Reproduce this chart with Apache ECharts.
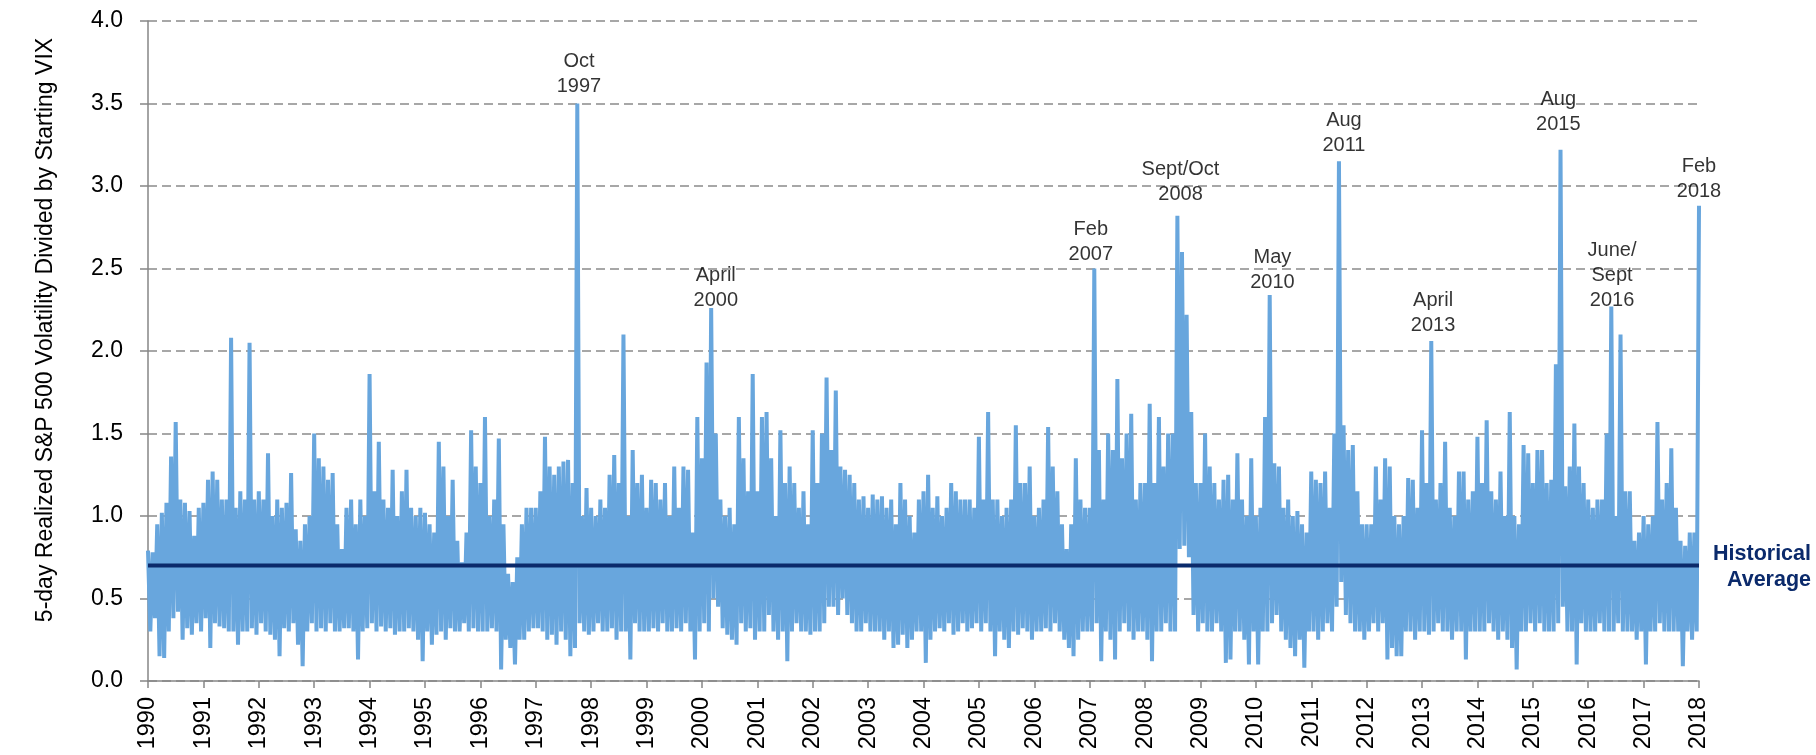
<!DOCTYPE html>
<html>
<head>
<meta charset="utf-8">
<script src="https://cdn.jsdelivr.net/npm/echarts@6/dist/echarts.min.js"></script>
<style>
  html, body { margin: 0; padding: 0; background: #fff; }
  #chart { width: 1816px; height: 755px; }
</style>
</head>
<body>
<div id="chart"></div>
<script>
// monthly envelope: one high and one low per month, Jan 1990 .. Dec 2017
const startYear = 1990;
const monthHigh = [
  0.79, 0.78, 0.95, 1.02, 1.08, 1.36, 1.57, 1.1, 1.08, 1.03, 0.88, 1.05, // 1990
  1.08, 1.22, 1.27, 1.22, 1.1, 1.1, 2.08, 1.05, 1.15, 1.1, 2.05, 1.1,    // 1991
  1.15, 1.1, 1.38, 1.0, 1.1, 1.05, 1.08, 1.26, 0.92, 0.85, 0.95, 1.0,    // 1992
  1.5, 1.35, 1.3, 1.22, 1.26, 0.95, 0.8, 1.05, 1.1, 0.95, 1.1, 1.0,      // 1993
  1.86, 1.15, 1.45, 1.1, 1.05, 1.28, 1.0, 1.15, 1.28, 1.05, 1.0, 1.05,   // 1994
  1.02, 0.95, 0.9, 1.45, 1.3, 1.0, 1.22, 0.85, 0.72, 0.9, 1.52, 1.3,     // 1995
  1.2, 1.6, 1.0, 1.1, 1.47, 0.95, 0.65, 0.6, 0.75, 0.95, 1.05, 1.05,     // 1996
  1.05, 1.15, 1.48, 1.3, 1.25, 1.3, 1.33, 1.34, 1.2, 3.5, 1.0, 1.17,     // 1997
  1.05, 1.0, 1.1, 1.05, 1.25, 1.37, 1.2, 2.1, 1.0, 1.4, 1.2, 1.25,       // 1998
  1.05, 1.22, 1.2, 1.1, 1.2, 1.0, 1.3, 1.05, 1.3, 1.28, 0.9, 1.6,        // 1999
  1.35, 1.93, 2.26, 1.5, 1.1, 1.0, 1.05, 0.95, 1.6, 1.35, 1.15, 1.86,    // 2000
  1.15, 1.6, 1.63, 1.35, 1.0, 1.52, 1.2, 1.3, 1.2, 1.05, 1.15, 0.95,     // 2001
  1.52, 1.2, 1.5, 1.84, 1.4, 1.76, 1.3, 1.28, 1.25, 1.2, 1.1, 1.12,      // 2002
  1.05, 1.13, 1.1, 1.12, 1.05, 1.1, 0.95, 1.2, 1.1, 1.0, 0.9, 1.1,       // 2003
  1.15, 1.25, 1.05, 1.12, 1.0, 1.05, 1.2, 1.15, 1.1, 1.1, 1.1, 1.05,     // 2004
  1.48, 1.1, 1.63, 1.1, 1.1, 1.0, 1.05, 1.1, 1.55, 1.2, 1.2, 1.3,        // 2005
  1.0, 1.05, 1.1, 1.54, 1.3, 1.15, 0.95, 0.8, 0.95, 1.35, 1.1, 1.05,     // 2006
  1.05, 2.5, 1.4, 1.1, 1.5, 1.4, 1.83, 1.35, 1.5, 1.62, 1.1, 1.2,        // 2007
  1.2, 1.68, 1.2, 1.6, 1.3, 1.5, 1.5, 2.82, 2.6, 2.22, 1.63, 1.2,        // 2008
  1.2, 1.5, 1.3, 1.2, 1.1, 1.22, 1.25, 1.1, 1.38, 1.1, 1.0, 1.35,        // 2009
  1.0, 1.05, 1.6, 2.34, 1.32, 1.3, 1.05, 1.1, 1.0, 1.03, 0.95, 0.9,      // 2010
  1.27, 1.22, 1.2, 1.27, 1.05, 1.5, 3.15, 1.55, 1.4, 1.43, 1.15, 0.95,   // 2011
  0.95, 0.95, 1.3, 1.1, 1.35, 1.3, 1.0, 0.95, 1.0, 1.23, 1.22, 1.05,     // 2012
  1.52, 1.2, 2.06, 1.1, 1.2, 1.45, 1.05, 1.0, 1.27, 1.27, 1.1, 1.15,     // 2013
  1.48, 1.2, 1.58, 1.15, 1.1, 1.27, 1.0, 1.63, 1.0, 0.95, 1.43, 1.38,    // 2014
  1.2, 1.4, 1.4, 1.2, 1.22, 1.92, 3.22, 1.18, 1.3, 1.56, 1.3, 1.2,       // 2015
  1.1, 1.05, 1.1, 1.1, 1.5, 2.27, 1.0, 2.1, 1.15, 1.15, 0.85, 0.9,       // 2016
  1.0, 0.95, 1.0, 1.57, 1.1, 1.2, 1.41, 1.05, 0.85, 0.82, 0.9, 0.9,      // 2017
  2.88                                                                   // Feb 2018
];
const monthLow = [
  0.3, 0.38, 0.15, 0.14, 0.3, 0.38, 0.42, 0.25, 0.32, 0.28, 0.35, 0.3,   // 1990
  0.38, 0.2, 0.35, 0.33, 0.32, 0.3, 0.3, 0.22, 0.3, 0.3, 0.32, 0.28,     // 1991
  0.35, 0.3, 0.28, 0.25, 0.15, 0.32, 0.3, 0.35, 0.22, 0.09, 0.3, 0.35,   // 1992
  0.3, 0.32, 0.3, 0.35, 0.3, 0.3, 0.32, 0.32, 0.3, 0.13, 0.3, 0.32,      // 1993
  0.35, 0.3, 0.33, 0.3, 0.32, 0.28, 0.3, 0.3, 0.32, 0.3, 0.25, 0.12,     // 1994
  0.3, 0.22, 0.28, 0.3, 0.25, 0.32, 0.3, 0.3, 0.35, 0.3, 0.32, 0.3,      // 1995
  0.3, 0.3, 0.32, 0.3, 0.07, 0.25, 0.2, 0.1, 0.25, 0.25, 0.3, 0.32,      // 1996
  0.32, 0.3, 0.25, 0.28, 0.22, 0.3, 0.25, 0.15, 0.2, 0.35, 0.3, 0.28,    // 1997
  0.3, 0.35, 0.3, 0.3, 0.32, 0.25, 0.3, 0.3, 0.13, 0.35, 0.3, 0.3,       // 1998
  0.3, 0.32, 0.3, 0.35, 0.3, 0.3, 0.32, 0.3, 0.35, 0.3, 0.13, 0.3,       // 1999
  0.35, 0.3, 0.5, 0.45, 0.32, 0.28, 0.25, 0.22, 0.35, 0.3, 0.32, 0.25,   // 2000
  0.3, 0.3, 0.4, 0.3, 0.25, 0.3, 0.12, 0.3, 0.35, 0.3, 0.3, 0.28,        // 2001
  0.3, 0.3, 0.35, 0.45, 0.45, 0.4, 0.5, 0.4, 0.35, 0.3, 0.3, 0.35,       // 2002
  0.3, 0.3, 0.3, 0.25, 0.3, 0.2, 0.22, 0.28, 0.2, 0.25, 0.3, 0.3,        // 2003
  0.11, 0.25, 0.3, 0.32, 0.3, 0.35, 0.28, 0.3, 0.35, 0.3, 0.32, 0.35,    // 2004
  0.3, 0.35, 0.3, 0.15, 0.3, 0.25, 0.2, 0.3, 0.28, 0.32, 0.3, 0.25,      // 2005
  0.3, 0.3, 0.32, 0.3, 0.35, 0.3, 0.25, 0.2, 0.15, 0.25, 0.3, 0.3,       // 2006
  0.3, 0.35, 0.12, 0.3, 0.25, 0.13, 0.3, 0.35, 0.3, 0.25, 0.3, 0.3,      // 2007
  0.25, 0.12, 0.3, 0.3, 0.35, 0.3, 0.3, 0.8, 0.82, 0.75, 0.4, 0.3,       // 2008
  0.35, 0.3, 0.3, 0.35, 0.3, 0.11, 0.13, 0.3, 0.3, 0.25, 0.1, 0.3,       // 2009
  0.1, 0.3, 0.3, 0.35, 0.4, 0.3, 0.25, 0.2, 0.15, 0.25, 0.08, 0.3,       // 2010
  0.3, 0.25, 0.3, 0.35, 0.3, 0.45, 0.6, 0.4, 0.35, 0.3, 0.3, 0.25,       // 2011
  0.3, 0.35, 0.3, 0.35, 0.13, 0.2, 0.15, 0.15, 0.3, 0.3, 0.25, 0.3,      // 2012
  0.3, 0.28, 0.3, 0.35, 0.3, 0.3, 0.25, 0.3, 0.3, 0.13, 0.3, 0.3,        // 2013
  0.3, 0.3, 0.35, 0.3, 0.25, 0.3, 0.25, 0.2, 0.07, 0.3, 0.3, 0.35,       // 2014
  0.3, 0.35, 0.3, 0.3, 0.3, 0.35, 0.45, 0.3, 0.3, 0.1, 0.35, 0.3,        // 2015
  0.3, 0.3, 0.35, 0.3, 0.3, 0.3, 0.35, 0.3, 0.3, 0.3, 0.25, 0.3,         // 2016
  0.1, 0.3, 0.3, 0.35, 0.3, 0.3, 0.3, 0.3, 0.09, 0.3, 0.25, 0.3          // 2017
];
const historicalAverage = 0.70;

// event labels: text, year, value just under the text
const eventNames = ['Oct\n1997', 'April\n2000', 'Feb\n2007', 'Sept/Oct\n2008', 'May\n2010',
  'Aug\n2011', 'April\n2013', 'Aug\n2015', 'June/\nSept\n2016', 'Feb\n2018'];
const eventYears = [1997.78, 2000.25, 2007.02, 2008.64, 2010.30, 2011.59, 2013.2, 2015.46, 2016.43, 2018.0];
const eventValues = [3.53, 2.23, 2.51, 2.87, 2.34, 3.17, 2.08, 3.30, 2.23, 2.89];

const points = [];
monthHigh.forEach((v, i) => {
  points.push([startYear + i / 12, v]);
  if (i < monthLow.length) points.push([startYear + (i + 0.5) / 12, monthLow[i]]);
});

const font = '"Liberation Sans", Arial, sans-serif';
const chart = echarts.init(document.getElementById('chart'));

chart.setOption({
  animation: false,
  grid: { left: 148, right: 117, top: 21, bottom: 74, outerBoundsMode: 'none' },
  xAxis: {
    type: 'value',
    min: 1990,
    max: 2018,
    interval: 1,
    axisLine: { lineStyle: { color: '#868686', width: 1.5 } },
    axisTick: { length: 7, lineStyle: { color: '#868686', width: 1.5 } },
    axisLabel: {
      rotate: 90,
      margin: 16,
      color: '#000',
      fontSize: 23.5,
      fontFamily: font,
      formatter: (v) => String(v)
    },
    splitLine: { show: false }
  },
  yAxis: {
    type: 'value',
    min: 0,
    max: 4,
    interval: 0.5,
    axisLine: { show: true, lineStyle: { color: '#868686', width: 1.5 } },
    axisTick: { show: true, length: 8, lineStyle: { color: '#868686', width: 1.5 } },
    axisLabel: {
      margin: 25,
      color: '#000',
      fontSize: 23,
      fontFamily: font,
      formatter: (v) => v.toFixed(1)
    },
    splitLine: { lineStyle: { color: '#8a8a8a', width: 1.5, type: [9, 5] } }
  },
  series: [
    {
      type: 'line',
      data: points,
      symbol: 'none',
      lineStyle: { color: '#68a6dd', width: 4 },
      z: 2
    },
    {
      type: 'line',
      data: [[1990, historicalAverage], [2018, historicalAverage]],
      symbol: 'none',
      lineStyle: { color: '#0b2a6b', width: 4 },
      z: 3
    },
    {
      type: 'scatter',
      data: eventYears.map((y, i) => ({ value: [y, eventValues[i]], name: eventNames[i] })),
      symbolSize: 0,
      z: 4,
      label: {
        show: true,
        position: 'top',
        distance: 0,
        formatter: (p) => p.name,
        color: '#000',
        fontSize: 20,
        lineHeight: 25,
        fontFamily: font,
        align: 'center'
      }
    }
  ],
  graphic: [
    {
      type: 'text',
      x: 46,
      y: 330,
      rotation: Math.PI / 2,
      style: {
        text: '5-day Realized S&P 500 Volatility Divided by Starting VIX',
        font: '23px "Liberation Sans", Arial, sans-serif',
        fill: '#000',
        textAlign: 'center',
        textVerticalAlign: 'middle'
      }
    },
    {
      type: 'text',
      x: 1811,
      y: 567,
      style: {
        text: 'Historical\nAverage',
        font: 'bold 21.5px "Liberation Sans", Arial, sans-serif',
        lineHeight: 26,
        fill: '#0b2a6b',
        textAlign: 'right',
        textVerticalAlign: 'middle'
      }
    }
  ]
});
</script>
</body>
</html>
